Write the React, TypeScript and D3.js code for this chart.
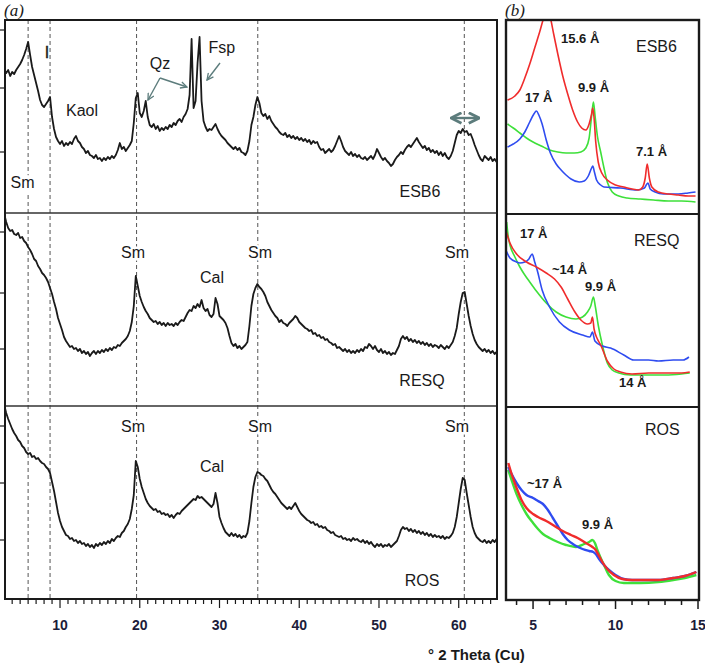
import React from "react";
import * as d3 from "d3";

// ---------- Panel (a): full XRD patterns, intensity (a.u.) on a 0.25° 2θ grid from 3° to 65° ----------
const TWO_THETA = d3.range(3, 65.001, 0.25);

const ESB6 = [
  142, 140, 143, 137, 141, 139, 143, 146, 149, 153, 158, 164, 171, 158, 146, 138,
  130, 122, 113, 108, 106, 109, 112, 116, 96, 84, 76, 72, 69, 72, 67, 70,
  68, 71, 69, 74, 77, 72, 70, 66, 64, 60, 62, 58, 57, 55, 58, 54,
  55, 52, 55, 53, 56, 54, 57, 55, 58, 63, 70, 64, 66, 62, 65, 68,
  72, 90, 115, 120, 100, 96, 102, 112, 96, 88, 86, 89, 84, 87, 82, 85,
  83, 86, 84, 88, 86, 90, 88, 92, 94, 91, 96, 99, 104, 118, 174, 105,
  112, 150, 176, 112, 92, 86, 82, 84, 83, 86, 89, 84, 80, 77, 75, 73,
  70, 68, 66, 64, 66, 63, 65, 61, 60, 58, 62, 72, 88, 96, 108, 116,
  110, 100, 97, 99, 94, 97, 92, 89, 86, 84, 81, 79, 78, 80, 76, 78,
  75, 77, 74, 76, 73, 75, 72, 74, 71, 73, 69, 72, 70, 71, 66, 63,
  64, 60, 62, 64, 61, 63, 67, 72, 77, 72, 66, 62, 60, 58, 61, 57,
  59, 56, 58, 55, 54, 56, 53, 55, 57, 54, 58, 64, 60, 56, 53, 55,
  52, 50, 47, 49, 53, 56, 58, 61, 59, 63, 66, 68, 66, 69, 72, 75,
  71, 68, 65, 67, 63, 65, 61, 63, 60, 62, 58, 61, 57, 60, 56, 54,
  57, 62, 70, 78, 82, 80, 84, 81, 82, 78, 79, 74, 68, 63, 58, 54,
  52, 57, 55, 53, 56, 52, 54, 51, 53,
];

const RESQ = [
  192, 184, 178, 175, 176, 172, 171, 173, 168, 169, 165, 163, 159, 156, 152, 147,
  145, 140, 137, 133, 131, 128, 124, 118, 112, 104, 97, 88, 82, 76, 69, 65,
  62, 59, 60, 57, 58, 55, 57, 53, 55, 52, 54, 50, 53, 55, 52, 55,
  53, 56, 54, 57, 55, 58, 56, 59, 58, 61, 60, 63, 65, 67, 70, 75,
  84, 100, 130, 120, 110, 104, 99, 95, 92, 88, 86, 84, 85, 82, 84, 81,
  83, 80, 83, 81, 82, 80, 83, 81, 84, 86, 85, 89, 93, 96, 95, 100,
  98, 102, 99, 106, 98, 95, 97, 91, 89, 92, 108, 102, 90, 88, 86, 83,
  78, 70, 63, 60, 62, 58, 60, 57, 59, 61, 64, 80, 100, 112, 118, 122,
  119, 117, 114, 110, 104, 100, 96, 93, 90, 88, 84, 86, 83, 82, 80, 83,
  85, 87, 90, 88, 84, 82, 80, 78, 77, 75, 76, 72, 73, 70, 71, 68,
  69, 66, 67, 64, 63, 61, 62, 58, 59, 57, 55, 57, 54, 56, 53, 55,
  53, 56, 54, 57, 55, 59, 58, 62, 60, 57, 60, 56, 54, 57, 53, 55,
  52, 54, 51, 53, 52, 56, 60, 67, 70, 67, 69, 65, 67, 64, 66, 63,
  65, 62, 64, 61, 63, 60, 62, 59, 61, 60, 58, 61, 59, 57, 60, 58,
  61, 64, 70, 78, 92, 104, 113, 114, 102, 90, 80, 72, 66, 62, 59, 57,
  55, 57, 54, 56, 53, 55, 52, 54, 51,
];

const ROS = [
  194, 186, 180, 175, 170, 166, 163, 159, 157, 153, 151, 147, 145, 146, 142, 143,
  140, 141, 138, 136, 135, 132, 130, 126, 117, 108, 97, 86, 78, 72, 68, 64,
  63, 60, 61, 58, 59, 56, 58, 55, 56, 53, 55, 52, 54, 51, 55, 53,
  56, 54, 57, 55, 58, 56, 60, 58, 61, 63, 62, 66, 68, 72, 75, 80,
  90, 104, 138, 132, 120, 112, 106, 100, 96, 93, 91, 89, 90, 87, 88, 85,
  86, 84, 85, 82, 84, 81, 84, 86, 85, 88, 90, 92, 94, 96, 98, 100,
  99, 103, 101, 102, 100, 98, 96, 94, 92, 95, 106, 96, 82, 76, 71, 67,
  65, 63, 66, 63, 65, 62, 64, 61, 63, 62, 66, 78, 96, 112, 122, 127,
  126, 124, 123, 120, 118, 114, 110, 107, 105, 102, 99, 96, 94, 92, 90, 92,
  90, 93, 96, 92, 88, 85, 83, 81, 79, 78, 76, 77, 74, 75, 72, 73,
  71, 72, 69, 68, 66, 67, 64, 63, 62, 63, 60, 61, 59, 60, 58, 61,
  59, 60, 58, 57, 59, 56, 58, 55, 57, 54, 52, 55, 53, 55, 52, 54,
  53, 55, 52, 54, 56, 58, 63, 69, 72, 70, 71, 68, 70, 67, 69, 66,
  68, 65, 67, 64, 66, 63, 65, 62, 64, 62, 63, 61, 63, 60, 62, 61,
  63, 66, 72, 82, 96, 110, 121, 119, 106, 94, 82, 72, 66, 62, 60, 58,
  57, 59, 56, 58, 56, 59, 57, 60, 58,
];

const REF_PEAKS = [6.0, 8.75, 19.6, 34.8, 60.7];
const Y_TICKS_A = [
  [61, 125, 183],
  [57, 113, 174],
  [59, 116, 173],
];

// ---------- Panel (b): low-angle region, three treatments per sample ----------
const B_ESB6_RED = [[3.45,114],[3.9,118],[4.2,124],[4.5,136],[4.8,150],[5.1,166],[5.4,182],[5.65,196],[5.85,202],[6.05,196],[6.25,180],[6.5,160],[6.8,138],[7.1,120],[7.4,104],[7.7,92],[7.95,86],[8.2,84],[8.4,90],[8.55,100],[8.62,106],[8.7,96],[8.8,72],[8.95,52],[9.2,40],[9.5,34],[10.0,29],[10.5,27],[11.0,25],[11.4,24],[11.65,27],[11.8,36],[11.92,50],[12.05,36],[12.2,27],[12.6,22],[13.2,20],[13.8,19],[14.4,18],[14.85,18]];
const B_ESB6_BLUE = [[3.45,67],[3.8,70],[4.2,75],[4.5,82],[4.8,92],[5.05,100],[5.2,103],[5.35,99],[5.55,90],[5.8,74],[6.05,61],[6.4,50],[6.7,44],[7.0,39],[7.3,35],[7.8,32],[8.1,33],[8.35,38],[8.55,46],[8.62,48],[8.72,42],[8.85,34],[9.1,29],[9.3,27],[10.3,26],[11.3,24],[11.75,26],[11.9,30],[11.97,31],[12.1,25],[12.4,22],[12.9,20],[13.8,20],[14.4,21],[14.85,22]];
const B_ESB6_GREEN = [[3.45,90],[3.8,86],[4.2,81],[4.6,76],[5.0,72],[5.5,68],[6.0,64],[6.5,62],[7.0,61],[7.5,61],[7.9,62],[8.2,66],[8.4,76],[8.55,98],[8.66,112],[8.76,98],[8.9,78],[9.1,62],[9.3,46],[9.5,32],[9.8,22],[10.2,18],[10.7,16],[11.5,15],[12.3,14],[13.2,13],[14.0,13],[14.85,12]];

const B_RESQ_RED = [[3.38,175],[3.6,164],[4.0,153],[4.6,145],[5.2,140],[5.8,134],[6.3,128],[6.7,120],[7.1,108],[7.5,96],[7.9,87],[8.3,83],[8.5,84],[8.6,90],[8.7,78],[8.9,68],[9.1,62],[9.5,46],[9.9,38],[10.3,35],[11.0,33],[12.0,34],[13.0,34],[14.0,34],[14.5,35]];
const B_RESQ_BLUE = [[3.35,157],[3.6,149],[4.0,145],[4.2,144],[4.5,145],[4.75,148],[4.95,153],[5.1,145],[5.25,137],[5.55,117],[6.0,100],[6.6,85],[7.2,77],[8.0,72],[8.45,70],[8.6,75],[8.75,66],[9.2,61],[9.7,59],[10.5,52],[11.1,47],[12.0,47],[12.6,46],[13.5,47],[14.1,47],[14.45,50]];
const B_RESQ_GREEN = [[3.4,185],[3.5,170],[3.6,162],[3.9,150],[4.2,140],[4.5,132],[4.8,125],[5.2,116],[5.8,104],[6.4,95],[7.0,90],[7.6,88],[8.0,90],[8.3,95],[8.5,101],[8.66,110],[8.78,100],[8.95,82],[9.2,62],[9.5,44],[9.8,37],[10.2,34],[10.9,32],[12.0,32],[13.0,32],[14.0,33],[14.5,34]];

const B_ROS_RED = [[3.5,137],[3.7,126],[4.0,112],[4.3,100],[4.6,92],[5.0,86],[5.3,83],[5.8,79],[6.3,74],[6.8,69],[7.3,65],[7.7,62],[8.2,57],[8.6,53],[8.8,50],[9.0,44],[9.2,38],[9.5,31],[9.9,25],[10.4,21],[11.0,20],[12.0,20],[12.6,20],[13.5,22],[14.2,24],[14.9,28]];
const B_ROS_BLUE = [[3.5,133],[3.7,126],[4.0,117],[4.3,110],[4.6,105],[5.0,102],[5.3,99],[5.6,96],[5.9,90],[6.2,82],[6.5,74],[6.8,66],[7.1,60],[7.5,55],[8.0,51],[8.4,49],[8.65,48],[8.8,46],[9.0,41],[9.3,35],[9.6,30],[10.0,25],[10.5,21],[11.0,20],[12.0,20],[12.6,20],[13.5,22],[14.2,24],[14.9,28]];
const B_ROS_GREEN = [[3.5,130],[3.7,120],[4.0,106],[4.3,95],[4.6,86],[5.0,77],[5.3,71],[5.6,66],[6.0,62],[6.5,58],[7.0,55],[7.6,53],[8.1,56],[8.4,58],[8.6,60],[8.75,57],[8.9,50],[9.1,42],[9.3,35],[9.6,25],[10.0,19],[10.5,17],[11.5,17],[12.6,18],[13.5,20],[14.2,22],[14.9,25]];

const X_TICKS_A = d3.range(4, 65, 1);
const X_LABELS_A = [10, 20, 30, 40, 50, 60];
const X_TICKS_B = d3.range(4, 16, 1);
const X_LABELS_B = [5, 10, 15];

const RED = "#f02c2c";
const GREEN = "#3ee03a";
const BLUE = "#2f4cf0";
const INK = "#1a1a1a";
const ARROW = "#5c7c7c";
const SANS = "'Liberation Sans', Arial, sans-serif";

export default function App() {
  const W = 705, H = 664;
  const xA = d3.scaleLinear().domain([3.1, 64.8]).range([5, 497]);
  const xB = d3.scaleLinear().domain([3.36, 15.06]).range([506, 699]);
  const panelsA = [{ top: 20, bottom: 213 }, { top: 213, bottom: 406 }, { top: 406, bottom: 599 }];
  const panelsB = [{ top: 20, bottom: 214 }, { top: 214, bottom: 407 }, { top: 407, bottom: 600 }];
  const yA = panelsA.map((p) => d3.scaleLinear().domain([0, 193]).range([p.bottom, p.bottom - 193]));
  const yB = panelsB.map((p) => d3.scaleLinear().domain([0, 193]).range([p.bottom, p.bottom - 193]));

  const seriesA = [ESB6, RESQ, ROS];
  const pathA = (vals: number[], i: number) =>
    d3.line<number>().x((_, k) => xA(TWO_THETA[k])).y((v) => yA[i](v))(vals) || "";
  const pathB = (pts: number[][], i: number) =>
    d3.line<number[]>().x((d) => xB(d[0])).y((d) => yB[i](d[1])).curve(d3.curveMonotoneX)(pts) || "";

  const bSeries = [
    [B_ESB6_GREEN, B_ESB6_BLUE, B_ESB6_RED],
    [B_RESQ_GREEN, B_RESQ_BLUE, B_RESQ_RED],
    [B_ROS_GREEN, B_ROS_BLUE, B_ROS_RED],
  ];
  const bColors = [GREEN, BLUE, RED];

  const halo = { stroke: "#fff", strokeWidth: 5, paintOrder: "stroke" as const };

  const smLabel = (theta: number, h: number, i: number, key: string) => (
    <text key={key} x={xA(theta)} y={yA[i](h)} textAnchor="middle" fontSize={16} fill={INK} {...halo}>Sm</text>
  );

  return (
    <svg width={W} height={H} style={{ position: "absolute", left: 0, top: 0, background: "#fff" }} fontFamily={SANS}>
      <defs>
        <marker id="ah" viewBox="0 0 10 10" refX="9" refY="5" markerWidth="8" markerHeight="8" markerUnits="userSpaceOnUse" orient="auto">
          <path d="M1,1 L9,5 L1,9" fill="none" stroke={ARROW} strokeWidth={1.6} />
        </marker>
        <marker id="ah2" viewBox="0 0 10 10" refX="8" refY="5" markerWidth="13" markerHeight="13" markerUnits="userSpaceOnUse" orient="auto-start-reverse">
          <path d="M1,1 L9,5 L1,9" fill="none" stroke={ARROW} strokeWidth={2.2} />
        </marker>
        {panelsB.map((p, i) => (
          <clipPath key={i} id={`cb${i}`}>
            <rect x={506} y={p.top} width={193} height={p.bottom - p.top} />
          </clipPath>
        ))}
        <clipPath id="ca">
          <rect x={5} y={20} width={492} height={579} />
        </clipPath>
      </defs>

      {/* panel labels */}
      <text x={4} y={16} fontFamily="'Liberation Serif', 'Times New Roman', serif" fontStyle="italic" fontSize={17} fill={INK}>(a)</text>
      <text x={505} y={16} fontFamily="'Liberation Serif', 'Times New Roman', serif" fontStyle="italic" fontSize={17} fill={INK}>(b)</text>

      {/* ---------- panel (a) ---------- */}
      {REF_PEAKS.map((t) => (
        <line key={t} x1={xA(t)} x2={xA(t)} y1={20} y2={599} stroke="#555" strokeWidth={1} strokeDasharray="4,3" />
      ))}

      {panelsA.map((p, i) => (
        <g key={i}>
          {Y_TICKS_A[i].map((v) => (
            <line key={v} x1={0} x2={5} y1={yA[i](v)} y2={yA[i](v)} stroke={INK} strokeWidth={1.2} />
          ))}
        </g>
      ))}

      {/* annotations (a) */}
      <text x={xA(5.3)} y={yA[0](25)} textAnchor="middle" fontSize={16} fill={INK} {...halo} strokeWidth={8}>Sm</text>
      <text x={Math.round(xA(8.37))} y={yA[0](155)} textAnchor="middle" fontSize={16} fill={INK} stroke={INK} strokeWidth={0.4}>I</text>
      <text x={xA(12.76)} y={yA[0](97)} textAnchor="middle" fontSize={16} fill={INK}>Kaol</text>
      <text x={xA(22.54)} y={yA[0](144)} textAnchor="middle" fontSize={16} fill={INK}>Qz</text>
      <text x={xA(30.3)} y={yA[0](160)} textAnchor="middle" fontSize={16} fill={INK}>Fsp</text>
      <text x={xA(55.14)} y={yA[0](16)} textAnchor="middle" fontSize={16} fill={INK}>ESB6</text>

      {smLabel(19.15, 148, 1, "s1")}
      {smLabel(35.08, 148, 1, "s2")}
      {smLabel(59.78, 148, 1, "s3")}
      <text x={xA(29.06)} y={yA[1](123)} textAnchor="middle" fontSize={16} fill={INK}>Cal</text>
      <text x={xA(55.4)} y={yA[1](20)} textAnchor="middle" fontSize={16} fill={INK}>RESQ</text>

      {smLabel(19.15, 167, 2, "s4")}
      {smLabel(35.08, 167, 2, "s5")}
      {smLabel(59.78, 167, 2, "s6")}
      <text x={xA(29.06)} y={yA[2](127)} textAnchor="middle" fontSize={16} fill={INK}>Cal</text>
      <text x={xA(55.4)} y={yA[2](13)} textAnchor="middle" fontSize={16} fill={INK}>ROS</text>

      {/* curves (a) */}
      <g clipPath="url(#ca)">
        {seriesA.map((vals, i) => (
          <path key={i} d={pathA(vals, i)} fill="none" stroke={INK} strokeWidth={1.8} strokeLinejoin="round" />
        ))}
      </g>

      {/* arrows (a) */}
      <line x1={xA(22.54)} y1={yA[0](135)} x2={xA(21.03)} y2={yA[0](113)} stroke={ARROW} strokeWidth={1.4} markerEnd="url(#ah)" />
      <line x1={xA(22.54)} y1={yA[0](135)} x2={xA(25.92)} y2={yA[0](126)} stroke={ARROW} strokeWidth={1.4} markerEnd="url(#ah)" />
      <line x1={xA(30.06)} y1={yA[0](150)} x2={xA(28.43)} y2={yA[0](133)} stroke={ARROW} strokeWidth={1.4} markerEnd="url(#ah)" />
      <line x1={xA(59.2)} y1={yA[0](95)} x2={xA(62.4)} y2={yA[0](95)} stroke={ARROW} strokeWidth={2.4} markerStart="url(#ah2)" markerEnd="url(#ah2)" />

      {/* frame (a) */}
      <line x1={5} x2={497} y1={213} y2={213} stroke="#333" strokeWidth={1.5} />
      <line x1={5} x2={497} y1={406} y2={406} stroke="#333" strokeWidth={1.5} />
      <rect x={5} y={20} width={492} height={579} fill="none" stroke={INK} strokeWidth={2} />

      {/* x axis (a) */}
      {X_TICKS_A.map((t) => (
        <line key={t} x1={xA(t)} x2={xA(t)} y1={599} y2={t % 10 === 0 ? 608 : 604} stroke={INK} strokeWidth={1.2} />
      ))}
      {X_LABELS_A.map((t) => (
        <text key={t} x={xA(t)} y={630} textAnchor="middle" fontSize={14} fontWeight="bold" fill="#1c1c3a">{t}</text>
      ))}

      {/* ---------- panel (b) ---------- */}
      {bSeries.map((group, i) => (
        <g key={i} clipPath={`url(#cb${i})`}>
          {group.map((pts, k) => (
            <path key={k} d={pathB(pts, i)} fill="none" stroke={bColors[k]} strokeWidth={i === 2 ? 2.4 : 1.6} strokeLinejoin="round" />
          ))}
        </g>
      ))}

      {/* labels (b) */}
      <g fontWeight="bold" fontSize={13} fill={INK}>
        <text x={561} y={43}>15.6 Å</text>
        <text x={578} y={92}>9.9 Å</text>
        <text x={525} y={102}>17 Å</text>
        <text x={636} y={156}>7.1 Å</text>
        <text x={520} y={238}>17 Å</text>
        <text x={552} y={274}>~14 Å</text>
        <text x={585} y={291}>9.9 Å</text>
        <text x={619} y={387}>14 Å</text>
        <text x={527} y={488}>~17 Å</text>
        <text x={582} y={529}>9.9 Å</text>
      </g>
      <text x={636} y={52} fontSize={16} fill={INK}>ESB6</text>
      <text x={634} y={246} fontSize={16} fill={INK}>RESQ</text>
      <text x={645} y={435} fontSize={16} fill={INK}>ROS</text>

      {/* frame (b) */}
      <line x1={506} x2={699} y1={214} y2={214} stroke={INK} strokeWidth={2} />
      <line x1={506} x2={699} y1={407} y2={407} stroke={INK} strokeWidth={2} />
      <rect x={506} y={20} width={193} height={580} fill="none" stroke={INK} strokeWidth={2.4} />

      {X_TICKS_B.map((t) => (
        <line key={t} x1={xB(t)} x2={xB(t)} y1={600} y2={t % 5 === 0 ? 609 : 605} stroke={INK} strokeWidth={1.5} />
      ))}
      {X_LABELS_B.map((t) => (
        <text key={t} x={xB(t)} y={630} textAnchor="middle" fontSize={14} fontWeight="bold" fill="#1c1c3a">{t}</text>
      ))}

      <text x={428} y={660} fontSize={15} fontWeight="bold" fill={INK}>° 2 Theta (Cu)</text>
    </svg>
  );
}
